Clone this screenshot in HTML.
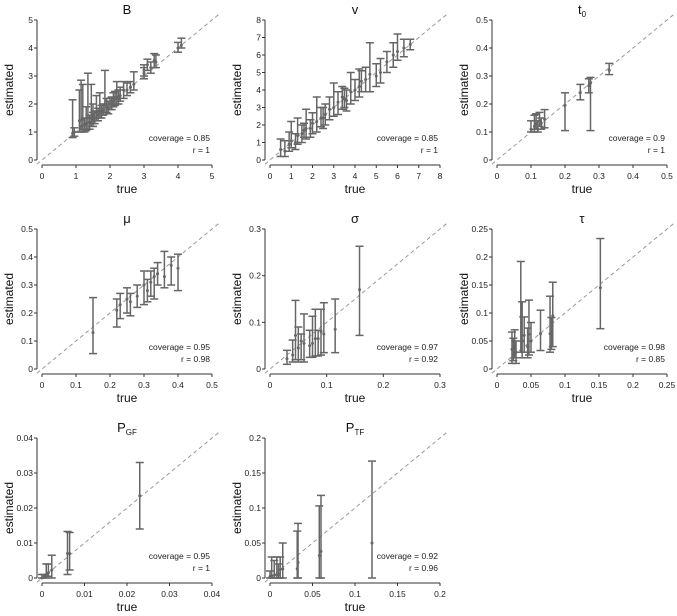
<!DOCTYPE html>
<html><head><meta charset="utf-8"><style>
body{margin:0;background:#fff}
svg{display:block;font-family:"Liberation Sans",sans-serif}
</style></head><body>
<svg id="c" width="677" height="616" viewBox="0 0 677 616" xmlns="http://www.w3.org/2000/svg"></svg>
<script>
// data per panel: [true, estimated, lower, upper]
const titles = ["B","v","t0","μ","σ","τ","PGF","PTF"];
const coverageVals = ["0.85","0.85","0.9","0.95","0.97","0.98","0.95","0.92"];
const rVals = ["1","1","1","0.98","0.92","0.85","1","0.96"];
const axisMax = [5,8,0.5,0.5,0.3,0.25,0.04,0.2];
const ticksB = [0,1,2,3,4,5];
const ticksV = [0,1,2,3,4,5,6,7,8];
const ticksT0 = [0,0.1,0.2,0.3,0.4,0.5];
const ticksMu = [0,0.1,0.2,0.3,0.4,0.5];
const ticksSigma = [0,0.1,0.2,0.3];
const ticksTau = [0,0.05,0.1,0.15,0.2,0.25];
const ticksPGF = [0,0.01,0.02,0.03,0.04];
const ticksPTF = [0,0.05,0.1,0.15,0.2];
const dataB = [[0.9,0.95,0.8,2.15],[0.95,1.0,0.85,1.15],[1.1,1.4,1.0,2.5],[1.15,1.2,1.0,2.85],[1.2,1.45,1.1,2.7],[1.3,1.3,1.05,1.9],[1.35,1.5,1.1,3.1],[1.45,1.5,1.2,2.7],[1.5,1.6,1.3,2.0],[1.6,1.7,1.4,2.3],[1.7,1.75,1.5,2.4],[1.8,1.8,1.6,2.0],[1.85,2.0,1.7,3.2],[1.9,1.9,1.7,2.2],[2.0,2.0,1.8,2.2],[2.1,2.1,1.9,2.4],[2.2,2.25,2.0,2.8],[2.3,2.3,2.1,2.6],[2.4,2.5,2.2,2.8],[2.5,2.5,2.3,2.75],[2.7,2.7,2.5,3.15],[2.6,2.6,2.4,2.8],[3.0,3.2,3.0,3.4],[3.1,3.4,3.2,3.6],[3.2,3.3,3.1,3.5],[3.3,3.55,3.3,3.8],[3.35,3.5,3.3,3.75],[3.0,3.1,2.9,3.3],[4.0,4.0,3.85,4.2],[4.1,4.1,4.0,4.35],[1.4,1.35,1.1,1.6],[1.5,1.45,1.2,1.7],[1.65,1.6,1.4,1.85],[1.75,1.7,1.5,1.95],[1.95,1.85,1.65,2.1],[2.05,2.0,1.8,2.25],[2.15,2.2,1.95,2.45],[1.25,1.25,1.0,1.5],[1.55,1.5,1.3,1.75],[2.25,2.2,2.0,2.5]];
const dataV = [[0.5,0.6,0.2,1.2],[0.7,0.5,0.2,1.1],[0.9,0.9,0.5,1.6],[1.0,1.1,0.7,2.2],[1.2,1.0,0.6,1.5],[1.3,1.4,0.9,2.4],[1.5,1.5,1.0,2.0],[1.7,1.8,1.2,2.9],[1.9,1.8,1.3,2.3],[2.0,2.1,1.5,2.7],[2.2,2.2,1.6,3.6],[2.4,2.4,1.9,3.0],[2.6,2.6,2.0,3.2],[2.8,2.9,2.3,3.6],[3.0,3.0,2.5,4.4],[3.2,3.3,2.6,3.9],[3.4,3.6,2.9,4.2],[3.6,3.4,2.8,4.0],[3.8,3.9,3.2,5.0],[4.0,4.0,3.4,4.6],[4.2,4.2,3.6,5.2],[4.5,4.6,3.9,5.3],[4.7,4.9,3.9,6.7],[5.0,4.8,4.2,5.5],[5.2,5.0,4.4,5.8],[5.5,5.6,5.0,6.2],[5.8,6.0,5.3,6.7],[6.0,6.2,5.7,7.2],[6.3,6.4,5.9,6.9],[6.6,6.6,6.3,6.9],[2.5,2.4,1.8,3.0],[3.5,3.5,3.0,4.1],[1.6,1.7,1.3,2.1],[4.3,4.5,3.9,5.1]];
const dataT0 = [[0.1,0.11,0.1,0.14],[0.11,0.12,0.1,0.16],[0.115,0.13,0.11,0.165],[0.12,0.11,0.1,0.14],[0.125,0.14,0.12,0.17],[0.13,0.13,0.11,0.15],[0.14,0.145,0.115,0.18],[0.2,0.195,0.105,0.24],[0.245,0.24,0.215,0.27],[0.27,0.265,0.24,0.29],[0.275,0.275,0.105,0.295],[0.33,0.32,0.305,0.345]];
const dataMu = [[0.15,0.13,0.055,0.255],[0.22,0.21,0.15,0.25],[0.23,0.23,0.18,0.27],[0.25,0.25,0.2,0.29],[0.26,0.24,0.19,0.27],[0.3,0.3,0.23,0.35],[0.31,0.28,0.24,0.32],[0.32,0.31,0.26,0.35],[0.34,0.34,0.3,0.38],[0.36,0.33,0.29,0.42],[0.38,0.37,0.3,0.4],[0.4,0.36,0.28,0.41],[0.28,0.26,0.22,0.3],[0.33,0.33,0.25,0.36]];
const dataSigma = [[0.03,0.022,0.01,0.04],[0.04,0.03,0.015,0.062],[0.045,0.072,0.02,0.147],[0.05,0.045,0.015,0.09],[0.055,0.06,0.02,0.075],[0.06,0.055,0.015,0.118],[0.07,0.05,0.025,0.083],[0.075,0.055,0.025,0.113],[0.08,0.065,0.028,0.128],[0.085,0.065,0.028,0.083],[0.09,0.08,0.03,0.128],[0.095,0.075,0.035,0.142],[0.115,0.085,0.035,0.15],[0.158,0.17,0.072,0.263]];
const dataTau = [[0.022,0.035,0.01,0.066],[0.024,0.025,0.015,0.055],[0.026,0.04,0.02,0.07],[0.028,0.03,0.01,0.05],[0.035,0.093,0.03,0.192],[0.037,0.05,0.02,0.12],[0.04,0.06,0.03,0.093],[0.045,0.04,0.02,0.073],[0.047,0.062,0.025,0.123],[0.05,0.05,0.03,0.083],[0.064,0.063,0.033,0.105],[0.078,0.063,0.03,0.13],[0.08,0.09,0.035,0.092],[0.082,0.095,0.04,0.155],[0.152,0.145,0.072,0.233]];
const dataPGF = [[0,0,0,0.001],[0.0005,0.0005,0,0.001],[0.001,0.001,0,0.004],[0.0015,0.0015,0.0005,0.004],[0.0023,0.0023,0,0.0065],[0.006,0.007,0.001,0.0133],[0.0065,0.007,0.0023,0.013],[0.023,0.0235,0.014,0.033]];
const dataPTF = [[0,0.002,0,0.01],[0.002,0.003,0,0.03],[0.005,0.004,0,0.025],[0.008,0.005,0,0.03],[0.01,0.005,0,0.02],[0.012,0.012,0,0.03],[0.015,0.013,0,0.05],[0.032,0.013,0,0.067],[0.033,0.022,0,0.078],[0.058,0.032,0,0.103],[0.06,0.038,0,0.118],[0.12,0.05,0,0.167]];

const allData=[dataB,dataV,dataT0,dataMu,dataSigma,dataTau,dataPGF,dataPTF];
const allTicks=[ticksB,ticksV,ticksT0,ticksMu,ticksSigma,ticksTau,ticksPGF,ticksPTF];
const NS="http://www.w3.org/2000/svg";
const svg=document.getElementById('c');
const colX=[42,270,497], rowY=[160,369,578], W=170, H=140;
function mk(tag,attrs,parent,txt){const e=document.createElementNS(NS,tag);for(const k in attrs)e.setAttribute(k,attrs[k]);if(txt!==undefined)e.textContent=txt;(parent||svg).appendChild(e);return e;}
const subs={"t0":["t","0"],"PGF":["P","GF"],"PTF":["P","TF"]};
allData.forEach((data,i)=>{
  const x0=colX[i%3], y0=rowY[Math.floor(i/3)], m=axisMax[i];
  const sx=v=>x0+v/m*W, sy=v=>y0-v/m*H;
  const g=mk('g',{});
  
  
  // axes
  const ya=mk('line',{x1:x0-5,y1:y0,x2:x0-5,y2:y0-H,stroke:'#333','stroke-width':1},g);
  
  const xa=mk('line',{x1:x0,y1:y0+5,x2:x0+W,y2:y0+5,stroke:'#333','stroke-width':1},g);
  
  allTicks[i].forEach(t=>{
    mk('line',{x1:x0-8,y1:sy(t),x2:x0-5,y2:sy(t),stroke:'#333'},g);
    const yl=mk('text',{x:x0-9,y:sy(t)+3,'font-size':8.5,'text-anchor':'end',fill:'#222'},g,String(t));
    
    mk('line',{x1:sx(t),y1:y0+5,x2:sx(t),y2:y0+8,stroke:'#333'},g);
    const xl=mk('text',{x:sx(t),y:y0+19,'font-size':8.5,'text-anchor':'middle',fill:'#222'},g,String(t));
    
  });
  // identity line
  const dl=mk('line',{x1:sx(-0.03*m),y1:sy(-0.03*m),x2:sx(1.04*m),y2:sy(1.04*m),stroke:'#999','stroke-width':1,'stroke-dasharray':'4,3'},g);
  
  data.forEach(d=>{
    const px=sx(d[0]);
    const eb=mk('g',{stroke:'#666','stroke-width':1.5,fill:'#666'},g);
    
    mk('line',{x1:px,y1:sy(d[2]),x2:px,y2:sy(d[3])},eb);
    mk('line',{x1:px-4,y1:sy(d[2]),x2:px+4,y2:sy(d[2])},eb);
    mk('line',{x1:px-4,y1:sy(d[3]),x2:px+4,y2:sy(d[3])},eb);
    mk('circle',{cx:px,cy:sy(d[1]),r:1.5,stroke:'none'},eb);
  });
  // title
  const tt=mk('text',{x:x0+W/2,y:y0-H-6,'font-size':13,'text-anchor':'middle',fill:'#111'},g);
  
  if(subs[titles[i]]){mk('tspan',{},tt,subs[titles[i]][0]);mk('tspan',{'font-size':8,dy:3},tt,subs[titles[i]][1]);}
  else tt.textContent=titles[i];
  const xt=mk('text',{x:x0+W/2,y:y0+33,'font-size':12,'text-anchor':'middle',fill:'#111'},g,'true');
  
  const yt=mk('text',{x:0,y:0,'font-size':12,'text-anchor':'middle',fill:'#111',transform:`translate(${x0-29},${y0-H/2}) rotate(-90)`},g,'estimated');
  
  const cv=mk('text',{x:x0+W-2,y:y0-19,'font-size':8.5,'text-anchor':'end',fill:'#222'},g,'coverage = '+coverageVals[i]);
  
  const rr=mk('text',{x:x0+W-2,y:y0-7,'font-size':8.5,'text-anchor':'end',fill:'#222'},g,'r = '+rVals[i]);
  
});
</script>
</body></html>
